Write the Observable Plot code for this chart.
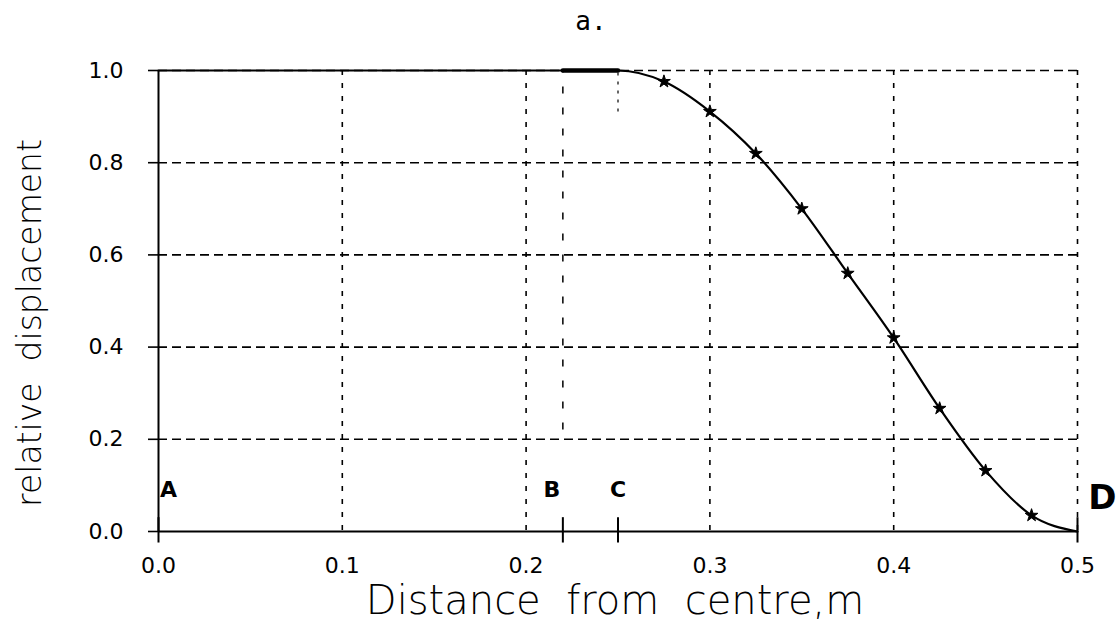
<!DOCTYPE html>
<html>
<head>
<meta charset="utf-8">
<script src="https://cdn.jsdelivr.net/npm/d3@7"></script>
<script src="https://cdn.jsdelivr.net/npm/@observablehq/plot@0.6"></script>
<style>
  html, body { margin: 0; padding: 0; background: #fff; }
</style>
</head>
<body>
<div id="chart"></div>
<script>
// ---- data ----
const distance     = [0, 0.22, 0.25, 0.275, 0.30, 0.325, 0.35, 0.375, 0.40, 0.425, 0.45, 0.475, 0.50];
const displacement = [1, 1,    1,    0.976, 0.911, 0.82, 0.70, 0.56,  0.42, 0.267, 0.132, 0.035, 0];
const markerIdx    = [3, 4, 5, 6, 7, 8, 9, 10, 11];
const xTicks = [0, 0.1, 0.2, 0.3, 0.4, 0.5];
const yTicks = [0, 0.2, 0.4, 0.6, 0.8, 1.0];
const xGrid  = [0.1, 0.2, 0.3, 0.4, 0.5];
const yGrid  = [0.2, 0.4, 0.6, 0.8, 1.0];
const pointLetters = ["A", "B", "C"];
const pointX       = [0.0055, 0.214, 0.25];
const pointY       = [0.09, 0.09, 0.09];
const sectionTicks = [0, 0.22, 0.25, 0.5];
const bLineX = 0.22, bLineFrom = 0.22, bLineTo = 1.0;
const cLineX = 0.25, cLineFrom = 0.91, cLineTo = 1.0;
const endLetter = "D", endX = 0.5135, endY = 0.072;
const title = "a.";
const xLabel = "Distance  from  centre,m";
const yLabel = "relative  displacement";

const curve = distance.map((d, i) => ({x: d, y: displacement[i]}));
const markers = markerIdx.map(i => curve[i]);
const plateau = curve.filter(d => d.x >= 0.22 && d.x <= 0.25);
const letters = pointLetters.map((t, i) => ({t, x: pointX[i], y: pointY[i]}));

const font = "'DejaVu Sans', sans-serif";

const chart = Plot.plot({
  width: 1116,
  height: 628,
  marginLeft: 158,
  marginRight: 39,
  marginTop: 70,
  marginBottom: 97,
  style: {background: "white", fontFamily: font, color: "black"},
  x: {domain: [0, 0.5]},
  y: {domain: [0, 1]},
  marks: [
    Plot.gridY(yGrid, {stroke: "black", strokeOpacity: 1, strokeWidth: 1.6, strokeDasharray: "9,5"}),
    Plot.gridX(xGrid, {stroke: "black", strokeOpacity: 1, strokeWidth: 1.6, strokeDasharray: "5,8"}),
    Plot.ruleX([bLineX], {y1: bLineFrom, y2: bLineTo, stroke: "black", strokeWidth: 1.5, strokeDasharray: "7,14"}),
    Plot.ruleX([cLineX], {y1: cLineFrom, y2: cLineTo, stroke: "black", strokeWidth: 1.2, strokeDasharray: "3,6"}),
    Plot.ruleX([0], {y1: 0, y2: 1, stroke: "black", strokeWidth: 2}),
    Plot.ruleY([0], {x1: 0, x2: 0.5, stroke: "black", strokeWidth: 2}),
    Plot.ruleX(sectionTicks, {y1: -0.025, y2: 0.03, stroke: "black", strokeWidth: 2}),
    Plot.line(curve, {x: "x", y: "y", curve: "monotone-x", stroke: "black", strokeWidth: 2.2}),
    Plot.line(plateau, {x: "x", y: "y", stroke: "black", strokeWidth: 4.5}),
    Plot.dot(markers, {x: "x", y: "y", symbol: "star", r: 4, fill: "black", stroke: "black", strokeWidth: 1}),
    Plot.axisY(yTicks, {tickSize: 10, tickPadding: 25, tickFormat: d3.format(".1f"), fontSize: 22, label: null, strokeWidth: 1.6}),
    Plot.axisX(xTicks, {tickSize: 0, tickPadding: 26, tickFormat: d3.format(".1f"), fontSize: 22, label: null}),
    Plot.text(letters, {x: "x", y: "y", text: "t", fontSize: 22, fontWeight: "bold", fontFamily: font}),
    Plot.text([endLetter], {x: endX, y: endY, text: d => d, fontSize: 34, fontWeight: "bold", fontFamily: font}),
    Plot.text([title], {frameAnchor: "top", lineAnchor: "middle", text: d => d, dx: -27, dy: -49, fontSize: 26, fontFamily: "'DejaVu Sans Mono', monospace"}),
    Plot.text([xLabel], {frameAnchor: "bottom", lineAnchor: "middle", textAnchor: "middle", text: d => d, dx: -3, dy: 70, fontSize: 40, fontWeight: 200, fontFamily: font}),
    Plot.text([yLabel], {frameAnchor: "left", textAnchor: "middle", lineAnchor: "middle", text: d => d, rotate: -90, dx: -128, dy: 22, fontSize: 33, fontWeight: 200, fontFamily: font})
  ]
});
document.getElementById("chart").appendChild(chart);
</script>
</body>
</html>
